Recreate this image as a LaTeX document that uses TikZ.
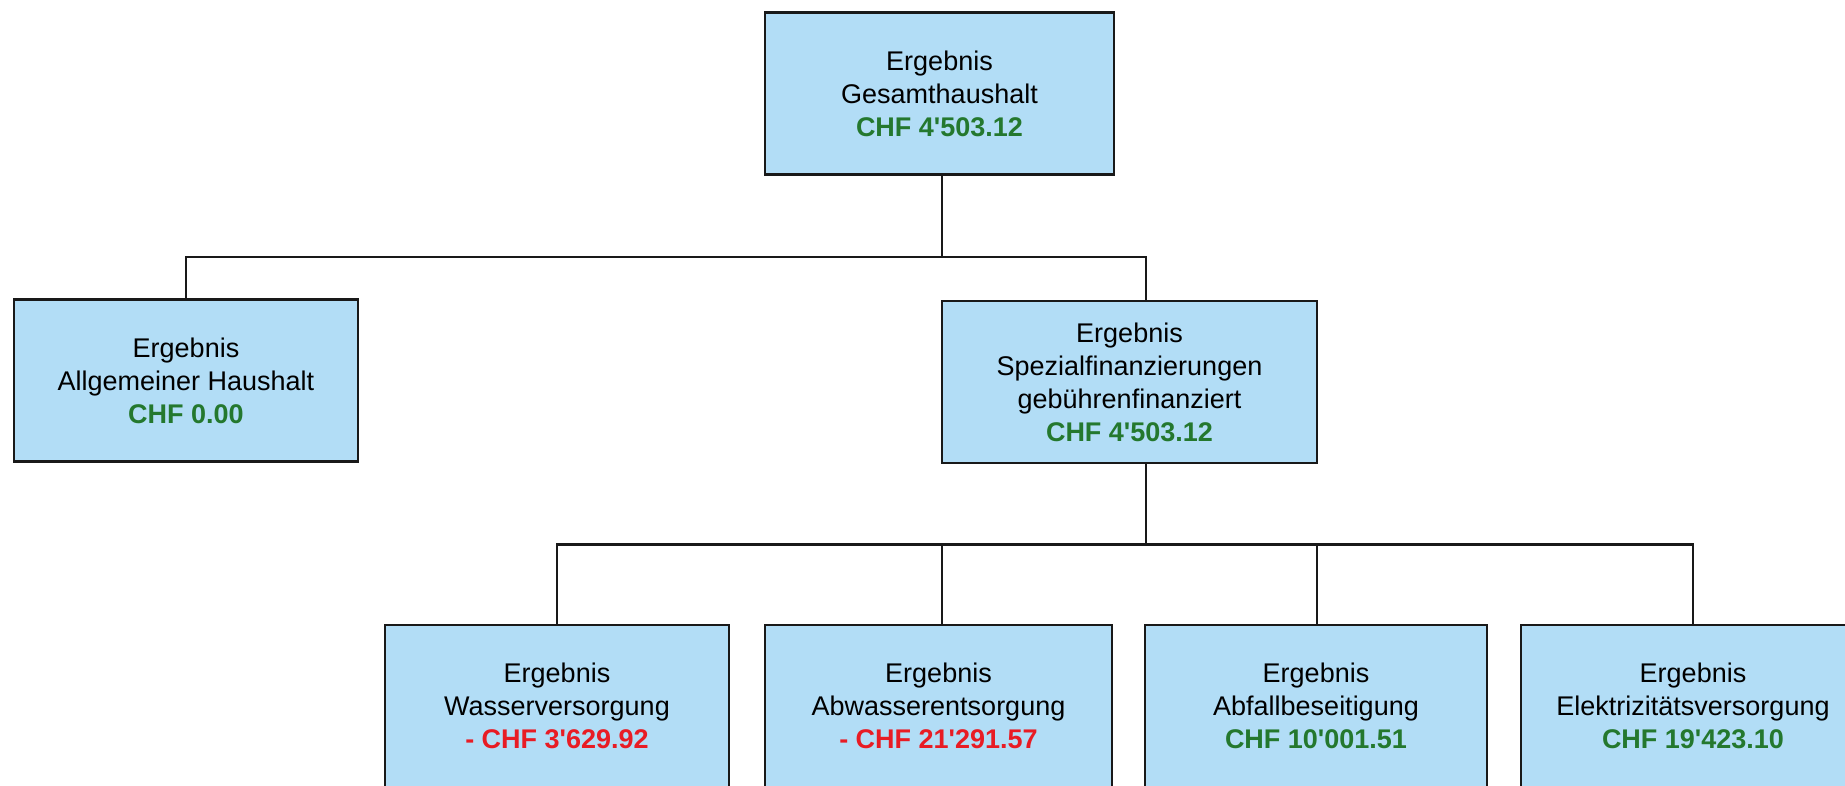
\documentclass[tikz,border=0pt]{standalone}
\usepackage{fontspec}
\setmainfont{Liberation Sans}[Ligatures=TeXOff]
\definecolor{boxblue}{RGB}{178,221,246}
\definecolor{amtgreen}{RGB}{36,120,46}
\definecolor{amtred}{RGB}{232,28,36}
\newcommand{\amtg}[1]{\textcolor{amtgreen}{\textbf{#1}}}
\newcommand{\amtr}[1]{\textcolor{amtred}{\textbf{#1}}}
\begin{document}
\begin{tikzpicture}[x=1pt,y=-1pt,
  box/.style={draw=black!90, line width=2.3pt, fill=boxblue, align=center, inner sep=0pt,
    font=\fontsize{27}{33}\selectfont, minimum height=162pt},
  conn/.style={draw=black!90, line width=2.3pt}]
\fill[white] (0,0) rectangle (1845,785);
\clip (0,0) rectangle (1845,785);
% boxes
\node[box, minimum width=349pt] (top) at (939.5,93.5) {Ergebnis\\Gesamthaushalt\\\amtg{CHF 4'503.12}};
\node[box, minimum width=344pt] (allg) at (186,380.5) {Ergebnis\\Allgemeiner Haushalt\\\amtg{CHF 0.00}};
\node[box, minimum width=375pt] (spez) at (1129.5,382) {Ergebnis\\Spezialfinanzierungen\\geb\"uhrenfinanziert\\\amtg{CHF 4'503.12}};
\node[box, minimum width=344pt] (wass) at (557,706) {Ergebnis\\Wasserversorgung\\\amtr{- CHF 3'629.92}};
\node[box, minimum width=347pt] (abw) at (938.5,706) {Ergebnis\\Abwasserentsorgung\\\amtr{- CHF 21'291.57}};
\node[box, minimum width=342pt] (abf) at (1316,706) {Ergebnis\\Abfallbeseitigung\\\amtg{CHF 10'001.51}};
\node[box, minimum width=344pt] (elek) at (1693,706) {Ergebnis\\Elektrizit\"atsversorgung\\\amtg{CHF 19'423.10}};
% junctions
\coordinate (j1) at (942,257);
\coordinate (j1l) at (186,257);
\coordinate (j1r) at (1146,257);
\coordinate (j2) at (1146,544.5);
\coordinate (j2a) at (557,544.5);
\coordinate (j2b) at (942,544.5);
\coordinate (j2c) at (1317,544.5);
\coordinate (j2d) at (1693,544.5);
% connectors
\draw[conn] (j1 |- top.south) -- (j1);
\draw[conn] (j1l |- allg.north) -- (j1l) -- (j1r) -- (j1r |- spez.north);
\draw[conn] (j2 |- spez.south) -- (j2);
\draw[conn] (j2a |- wass.north) -- (j2a) -- (j2d) -- (j2d |- elek.north);
\draw[conn] (j2b) -- (j2b |- abw.north);
\draw[conn] (j2c) -- (j2c |- abf.north);
\end{tikzpicture}
\end{document}
